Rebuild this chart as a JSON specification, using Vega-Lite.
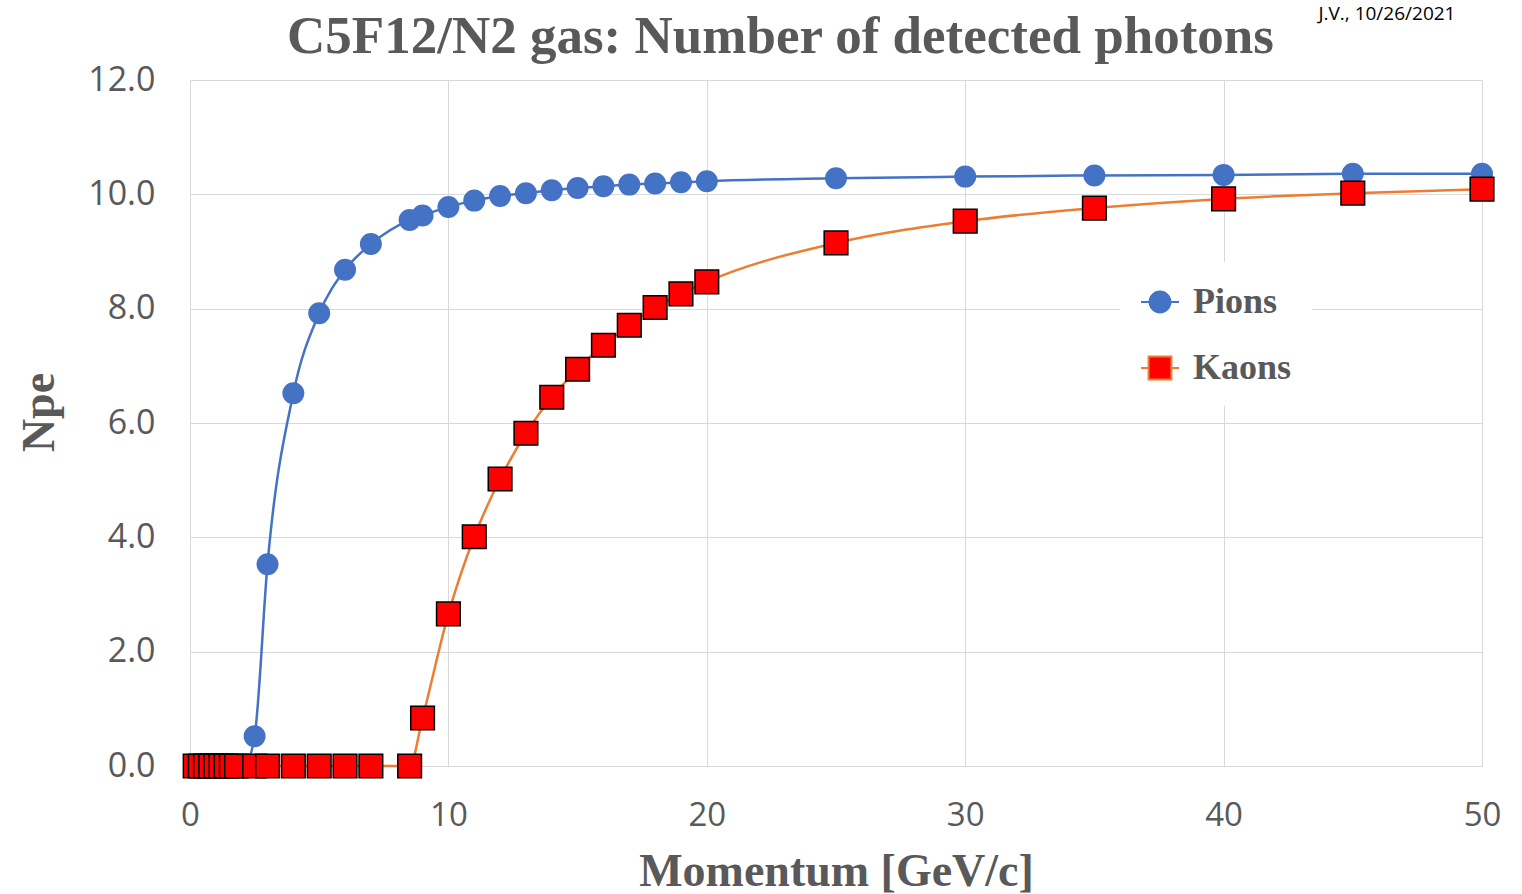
{
  "$schema": "https://vega.github.io/schema/vega-lite/v6.json",
  "autosize": "none",
  "width": 1292,
  "height": 686,
  "padding": {"left": 190, "top": 80, "right": 40, "bottom": 128},
  "background": "white",
  "config": {"view": {"stroke": null}},
  "data": {
    "values": [
      {"p": 0.2, "npe": 0, "series": "Pions"},
      {"p": 0.4, "npe": 0, "series": "Pions"},
      {"p": 0.6, "npe": 0, "series": "Pions"},
      {"p": 0.8, "npe": 0, "series": "Pions"},
      {"p": 1.0, "npe": 0, "series": "Pions"},
      {"p": 1.2, "npe": 0, "series": "Pions"},
      {"p": 1.4, "npe": 0, "series": "Pions"},
      {"p": 1.6, "npe": 0, "series": "Pions"},
      {"p": 1.8, "npe": 0, "series": "Pions"},
      {"p": 2.1, "npe": 0, "series": "Pions"},
      {"p": 2.5, "npe": 0.52, "series": "Pions"},
      {"p": 3, "npe": 3.53, "series": "Pions"},
      {"p": 4, "npe": 6.52, "series": "Pions"},
      {"p": 5, "npe": 7.92, "series": "Pions"},
      {"p": 6, "npe": 8.68, "series": "Pions"},
      {"p": 7, "npe": 9.13, "series": "Pions"},
      {"p": 8.5, "npe": 9.55, "series": "Pions"},
      {"p": 9, "npe": 9.63, "series": "Pions"},
      {"p": 10, "npe": 9.78, "series": "Pions"},
      {"p": 11, "npe": 9.89, "series": "Pions"},
      {"p": 12, "npe": 9.97, "series": "Pions"},
      {"p": 13, "npe": 10.02, "series": "Pions"},
      {"p": 14, "npe": 10.07, "series": "Pions"},
      {"p": 15, "npe": 10.11, "series": "Pions"},
      {"p": 16, "npe": 10.14, "series": "Pions"},
      {"p": 17, "npe": 10.17, "series": "Pions"},
      {"p": 18, "npe": 10.19, "series": "Pions"},
      {"p": 19, "npe": 10.21, "series": "Pions"},
      {"p": 20, "npe": 10.23, "series": "Pions"},
      {"p": 25, "npe": 10.28, "series": "Pions"},
      {"p": 30, "npe": 10.31, "series": "Pions"},
      {"p": 35, "npe": 10.33, "series": "Pions"},
      {"p": 40, "npe": 10.34, "series": "Pions"},
      {"p": 45, "npe": 10.36, "series": "Pions"},
      {"p": 50, "npe": 10.36, "series": "Pions"},
      {"p": 0.2, "npe": 0, "series": "Kaons"},
      {"p": 0.4, "npe": 0, "series": "Kaons"},
      {"p": 0.6, "npe": 0, "series": "Kaons"},
      {"p": 0.8, "npe": 0, "series": "Kaons"},
      {"p": 1.0, "npe": 0, "series": "Kaons"},
      {"p": 1.2, "npe": 0, "series": "Kaons"},
      {"p": 1.4, "npe": 0, "series": "Kaons"},
      {"p": 1.6, "npe": 0, "series": "Kaons"},
      {"p": 1.8, "npe": 0, "series": "Kaons"},
      {"p": 2.5, "npe": 0, "series": "Kaons"},
      {"p": 3, "npe": 0, "series": "Kaons"},
      {"p": 4, "npe": 0, "series": "Kaons"},
      {"p": 5, "npe": 0, "series": "Kaons"},
      {"p": 6, "npe": 0, "series": "Kaons"},
      {"p": 7, "npe": 0, "series": "Kaons"},
      {"p": 8.5, "npe": 0, "series": "Kaons"},
      {"p": 9, "npe": 0.84, "series": "Kaons"},
      {"p": 10, "npe": 2.66, "series": "Kaons"},
      {"p": 11, "npe": 4.01, "series": "Kaons"},
      {"p": 12, "npe": 5.02, "series": "Kaons"},
      {"p": 13, "npe": 5.82, "series": "Kaons"},
      {"p": 14, "npe": 6.45, "series": "Kaons"},
      {"p": 15, "npe": 6.94, "series": "Kaons"},
      {"p": 16, "npe": 7.36, "series": "Kaons"},
      {"p": 17, "npe": 7.71, "series": "Kaons"},
      {"p": 18, "npe": 8.02, "series": "Kaons"},
      {"p": 19, "npe": 8.26, "series": "Kaons"},
      {"p": 20, "npe": 8.47, "series": "Kaons"},
      {"p": 25, "npe": 9.15, "series": "Kaons"},
      {"p": 30, "npe": 9.53, "series": "Kaons"},
      {"p": 35, "npe": 9.76, "series": "Kaons"},
      {"p": 40, "npe": 9.92, "series": "Kaons"},
      {"p": 45, "npe": 10.02, "series": "Kaons"},
      {"p": 50, "npe": 10.09, "series": "Kaons"}
    ]
  },
  "layer": [
    {
      "mark": {"type": "line", "interpolate": "monotone", "strokeWidth": 2.5},
      "encoding": {
        "x": {
          "field": "p", "type": "quantitative",
          "scale": {"domain": [0, 50], "nice": false},
          "axis": {
            "values": [0, 10, 20, 30, 40, 50],
            "title": "Momentum [GeV/c]",
            "titleFont": "Liberation Serif", "titleFontWeight": "bold", "titleFontSize": 46,
            "titleColor": "#595959", "titleBaseline": "alphabetic", "titleY": 119,
            "labelFont": "Open Sans", "labelFontSize": 33, "labelColor": "#595959",
            "labelPadding": 33, "labelFlush": false, "labelBound": false, "ticks": false, "tickSize": 0,
            "grid": true, "gridColor": "#d9d9d9", "gridWidth": 1,
            "domainColor": "#d9d9d9", "domainWidth": 1
          }
        },
        "y": {
          "field": "npe", "type": "quantitative",
          "scale": {"domain": [0, 12], "nice": false},
          "axis": {
            "values": [0, 2, 4, 6, 8, 10, 12],
            "format": ".1f",
            "title": "Npe",
            "titleFont": "Liberation Serif", "titleFontWeight": "bold", "titleFontSize": 46,
            "titleColor": "#595959", "titleBaseline": "alphabetic", "titleX": -137, "titleY": 332,
            "labelFont": "Open Sans", "labelFontSize": 34, "labelColor": "#595959",
            "labelPadding": 35, "labelFlush": false, "ticks": false, "tickSize": 0,
            "grid": true, "gridColor": "#d9d9d9", "gridWidth": 1,
            "domain": false
          }
        },
        "stroke": {
          "condition": {"test": "datum.series === 'Kaons'", "value": "#ED7D31"},
          "value": "#4472C4"
        },
        "detail": {"field": "series"}
      }
    },
    {
      "mark": {"type": "point", "filled": true, "opacity": 1, "strokeWidth": 1.5},
      "encoding": {
        "x": {
          "field": "p", "type": "quantitative",
          "axis": {
            "orient": "top", "grid": false, "labels": false, "ticks": false, "domain": false,
            "title": "C5F12/N2 gas: Number of detected photons",
            "titleFont": "Liberation Serif", "titleFontWeight": "bold", "titleFontSize": 53,
            "titleColor": "#595959", "titleAlign": "center", "titleBaseline": "alphabetic",
            "titleX": 590, "titleY": -28
          }
        },
        "y": {
          "field": "npe", "type": "quantitative",
          "axis": {
            "orient": "right", "grid": false, "labels": false, "ticks": false, "domain": false,
            "title": "J.V., 10/26/2021",
            "titleFont": "Open Sans", "titleFontWeight": "normal", "titleFontSize": 19,
            "titleColor": "#000000", "titleAngle": 0, "titleAlign": "right", "titleBaseline": "alphabetic",
            "titleX": -27, "titleY": -61
          }
        },
        "fill": {
          "condition": {"test": "datum.series === 'Kaons'", "value": "#FF0000"},
          "value": "#4472C4"
        },
        "stroke": {
          "condition": {"test": "datum.series === 'Kaons'", "value": "#000000"},
          "value": "#4472C4"
        },
        "size": {
          "condition": {"test": "datum.series === 'Kaons'", "value": 560},
          "value": 420
        },
        "shape": {
          "condition": {"test": "datum.series === 'Kaons'", "value": "square"},
          "value": "circle"
        }
      }
    },
    {
      "transform": [{"filter": "false"}],
      "mark": {"type": "point", "filled": true, "opacity": 1, "strokeWidth": 2},
      "encoding": {
        "shape": {
          "field": "series", "type": "nominal",
          "scale": {
            "domain": ["Pions", "Kaons"],
            "range": [
              "M-1,0H1M0.55,0A0.55,0.55 0 1 1 -0.55,0A0.55,0.55 0 1 1 0.55,0Z",
              "M-1,0H-0.6M0.6,0H1M-0.6,-0.6H0.6V0.6H-0.6Z"
            ]
          },
          "legend": {
            "orient": "none", "legendX": 930, "legendY": 182,
            "title": null,
            "fillColor": "white", "padding": 20,
            "symbolSize": 1444, "symbolStrokeWidth": 2,
            "labelFont": "Liberation Serif", "labelFontWeight": "bold", "labelFontSize": 36,
            "labelColor": "#595959", "labelOffset": 13, "rowPadding": 28
          }
        },
        "fill": {
          "field": "series", "type": "nominal",
          "scale": {"domain": ["Pions", "Kaons"], "range": ["#4472C4", "#FF0000"]}
        },
        "stroke": {
          "field": "series", "type": "nominal",
          "scale": {"domain": ["Pions", "Kaons"], "range": ["#4472C4", "#ED7D31"]}
        }
      }
    }
  ],
  "resolve": {"axis": {"x": "independent", "y": "independent"}}
}
